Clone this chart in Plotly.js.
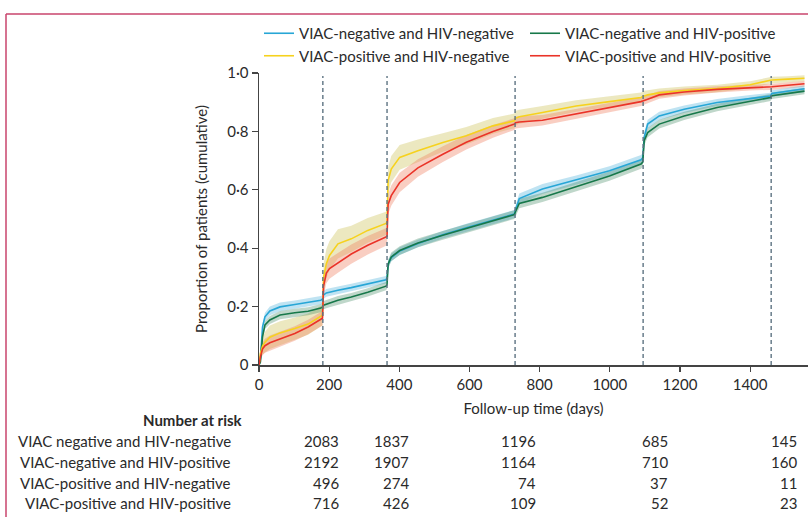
<!DOCTYPE html>
<html>
<head>
<meta charset="utf-8">
<script src="https://cdn.plot.ly/plotly-3.0.1.min.js"></script>
<style>html,body{margin:0;padding:0;background:#fff;}#chart{width:808px;height:517px;}</style>
</head>
<body>
<div id="chart"></div>
<script>
// ---- Data ----
const days = [0, 4, 10, 17, 31, 60, 102, 140, 176, 181, 184, 192, 201, 225, 263, 310, 362, 365, 368, 377, 401, 453, 524, 591, 667, 728, 731, 742, 808, 904, 999, 1089, 1094, 1098, 1108, 1141, 1212, 1306, 1400, 1458, 1462, 1508, 1555];

const seriesNames = ['VIAC-negative and HIV-negative', 'VIAC-negative and HIV-positive', 'VIAC-positive and HIV-negative', 'VIAC-positive and HIV-positive'];

const negNegValues = [0, 0.02, 0.13, 0.165, 0.185, 0.199, 0.207, 0.214, 0.222, 0.225, 0.24, 0.247, 0.25, 0.256, 0.265, 0.278, 0.292, 0.298, 0.345, 0.368, 0.39, 0.416, 0.446, 0.47, 0.496, 0.517, 0.53, 0.57, 0.603, 0.633, 0.665, 0.703, 0.71, 0.78, 0.825, 0.853, 0.876, 0.899, 0.913, 0.921, 0.93, 0.938, 0.946];
const negPosValues = [0, 0.01, 0.097, 0.137, 0.154, 0.171, 0.179, 0.184, 0.195, 0.198, 0.205, 0.208, 0.212, 0.222, 0.233, 0.249, 0.27, 0.275, 0.345, 0.37, 0.392, 0.418, 0.444, 0.468, 0.494, 0.515, 0.525, 0.553, 0.574, 0.611, 0.647, 0.688, 0.695, 0.768, 0.796, 0.825, 0.853, 0.882, 0.903, 0.916, 0.922, 0.93, 0.938];
const posNegValues = [0, 0.04, 0.065, 0.078, 0.095, 0.11, 0.125, 0.14, 0.167, 0.17, 0.30, 0.347, 0.375, 0.415, 0.432, 0.461, 0.485, 0.49, 0.631, 0.671, 0.711, 0.734, 0.762, 0.785, 0.819, 0.836, 0.845, 0.85, 0.865, 0.887, 0.902, 0.916, 0.92, 0.922, 0.925, 0.932, 0.94, 0.947, 0.96, 0.975, 0.976, 0.979, 0.982];
const posPosValues = [0, 0.028, 0.055, 0.066, 0.076, 0.088, 0.108, 0.13, 0.156, 0.16, 0.27, 0.315, 0.33, 0.35, 0.38, 0.41, 0.438, 0.44, 0.55, 0.58, 0.625, 0.675, 0.722, 0.763, 0.80, 0.825, 0.83, 0.832, 0.838, 0.859, 0.882, 0.902, 0.904, 0.905, 0.91, 0.925, 0.935, 0.944, 0.95, 0.952, 0.953, 0.958, 0.963];

// half-widths of the shaded 95% CI bands
const negNegCI = [0, .006, .012, .014, .015, .015, .014, .014, .014, .014, .013, .013, .013, .013, .013, .013, .013, .013, .013, .013, .013, .013, .013, .014, .014, .014, .015, .017, .017, .016, .016, .016, .016, .016, .015, .014, .013, .012, .012, .011, .011, .011, .011];
const negPosCI = [0, .005, .012, .014, .014, .014, .014, .014, .014, .014, .014, .014, .014, .014, .014, .014, .014, .014, .015, .015, .015, .015, .015, .015, .015, .015, .015, .016, .016, .016, .016, .016, .016, .016, .016, .015, .014, .013, .012, .012, .011, .011, .011];
const posNegCI = [0, .02, .03, .035, .04, .04, .038, .036, .035, .035, .045, .05, .05, .05, .045, .042, .04, .04, .045, .045, .042, .038, .032, .03, .027, .025, .025, .024, .022, .02, .018, .017, .017, .017, .016, .015, .014, .013, .012, .011, .011, .01, .01];
const posPosCI = [0, .015, .022, .024, .025, .025, .025, .025, .025, .025, .035, .035, .035, .034, .033, .032, .03, .03, .035, .035, .033, .03, .027, .025, .022, .02, .02, .02, .018, .017, .016, .015, .015, .015, .014, .013, .012, .011, .01, .01, .01, .01, .01];

const visitDays = [182, 365, 730, 1095, 1460];
const xTicks = [0, 200, 400, 600, 800, 1000, 1200, 1400];
const yTicks = [0, 0.2, 0.4, 0.6, 0.8, 1.0];
const yTickText = ['0', '0·2', '0·4', '0·6', '0·8', '1·0'];

const riskTitle = 'Number at risk';
const riskLabels = ['VIAC negative and HIV-negative', 'VIAC-negative and HIV-positive', 'VIAC-positive and HIV-negative', 'VIAC-positive and HIV-positive'];
const riskNegNeg = [2083, 1837, 1196, 685, 145];
const riskNegPos = [2192, 1907, 1164, 710, 160];
const riskPosNeg = [496, 274, 74, 37, 11];
const riskPosPos = [716, 426, 109, 52, 23];

// ---- Styling ----
const FONT = 'Lato, "Open Sans", sans-serif';
const FS = 15;
const lineColors = ['#27a6d6', '#17784a', '#f6d21e', '#ea3328'];
const bandColors = ['rgba(60,170,215,0.33)', 'rgba(60,135,95,0.33)', 'rgba(205,195,90,0.38)', 'rgba(240,125,95,0.38)'];
const allValues = [negNegValues, negPosValues, posNegValues, posPosValues];
const allCI = [negNegCI, negPosCI, posNegCI, posPosCI];

const traces = [];
// bands (drawn first)
[2, 3, 0, 1].forEach(i => {
  const v = allValues[i], c = allCI[i];
  const up = v.map((y, k) => Math.min(1, y + c[k]));
  const lo = v.map((y, k) => Math.max(0, y - c[k]));
  traces.push({
    x: days.concat(days.slice().reverse()),
    y: up.concat(lo.slice().reverse()),
    type: 'scatter', mode: 'lines', fill: 'toself',
    fillcolor: bandColors[i], line: {width: 0, color: bandColors[i]},
    hoverinfo: 'skip', showlegend: false
  });
});
// lines
[0, 1, 2, 3].forEach(i => {
  traces.push({
    x: days, y: allValues[i], type: 'scatter', mode: 'lines',
    name: seriesNames[i], line: {color: lineColors[i], width: 1.6}
  });
});

// paper helpers (plot area: x 259..808 px, y 73..365 px)
const L = 259, R = 808, T = 73, B = 365;
const px = p => (p - L) / (R - L);
const py = q => (B - q) / (B - T);

const shapes = visitDays.map(d => ({
  type: 'line', xref: 'x', yref: 'paper', x0: d, x1: d, y0: 0, y1: 0.99,
  line: {color: '#5d7382', width: 1.4, dash: '4px,3px'}
}));
// figure frame (top and left rule)
shapes.push({type: 'line', xref: 'paper', yref: 'paper', x0: px(6), x1: px(808), y0: py(14), y1: py(14), line: {color: '#c8456d', width: 1.5}});
shapes.push({type: 'line', xref: 'paper', yref: 'paper', x0: px(6), x1: px(6), y0: py(14), y1: py(520), line: {color: '#c8456d', width: 1.5}});

const annotations = [];
const tfont = {family: FONT, size: FS, color: '#2a2a2a'};
annotations.push({xref: 'paper', yref: 'paper', x: px(245), y: py(420), xanchor: 'right', yanchor: 'middle', text: '<b>' + riskTitle + '</b>', showarrow: false, font: tfont});
const rowY = [441, 462, 483, 503];
const colRight = [341, 411, 538, 670, 799];
const riskRows = [riskNegNeg, riskNegPos, riskPosNeg, riskPosPos];
riskLabels.forEach((lab, r) => {
  annotations.push({xref: 'paper', yref: 'paper', x: px(233), y: py(rowY[r]), xanchor: 'right', yanchor: 'middle', text: lab, showarrow: false, font: tfont});
  riskRows[r].forEach((n, c) => {
    annotations.push({xref: 'paper', yref: 'paper', x: px(colRight[c]), y: py(rowY[r]), xanchor: 'right', yanchor: 'middle', text: String(n), showarrow: false, font: tfont});
  });
});

const layout = {
  width: 808, height: 517,
  margin: {l: L, r: 0, t: T, b: 517 - B, pad: 0},
  paper_bgcolor: '#fff', plot_bgcolor: '#fff',
  font: {family: FONT, size: FS, color: '#2a2a2a'},
  showlegend: true,
  legend: {orientation: 'h', x: 0, y: py(17), xanchor: 'left', yanchor: 'top',
           entrywidth: 221, entrywidthmode: 'pixels', font: {family: FONT, size: FS, color: '#2a2a2a'},
           bgcolor: 'rgba(0,0,0,0)', traceorder: 'normal', tracegroupgap: 0},
  xaxis: {range: [0, 1565], tickvals: xTicks, ticks: 'outside', ticklen: 5, tickwidth: 1.2, tickcolor: '#444',
          showline: true, linecolor: '#444', linewidth: 1.5, showgrid: false, zeroline: false,
          tickfont: {family: FONT, size: FS, color: '#2a2a2a'},
          title: {text: 'Follow-up time (days)', font: {family: FONT, size: FS, color: '#2a2a2a'}, standoff: 12}},
  yaxis: {range: [0, 1], tickvals: yTicks, ticktext: yTickText, ticks: 'outside', ticklen: 6, tickwidth: 1.2, tickcolor: '#444',
          showline: true, linecolor: '#444', linewidth: 1.5, showgrid: false, zeroline: false,
          tickfont: {family: FONT, size: FS, color: '#2a2a2a'},
          title: {text: 'Proportion of patients (cumulative)', font: {family: FONT, size: FS, color: '#2a2a2a'}, standoff: 16}},
  shapes: shapes,
  annotations: annotations
};

Plotly.newPlot('chart', traces, layout, {staticPlot: true, displayModeBar: false});
</script>
</body>
</html>
